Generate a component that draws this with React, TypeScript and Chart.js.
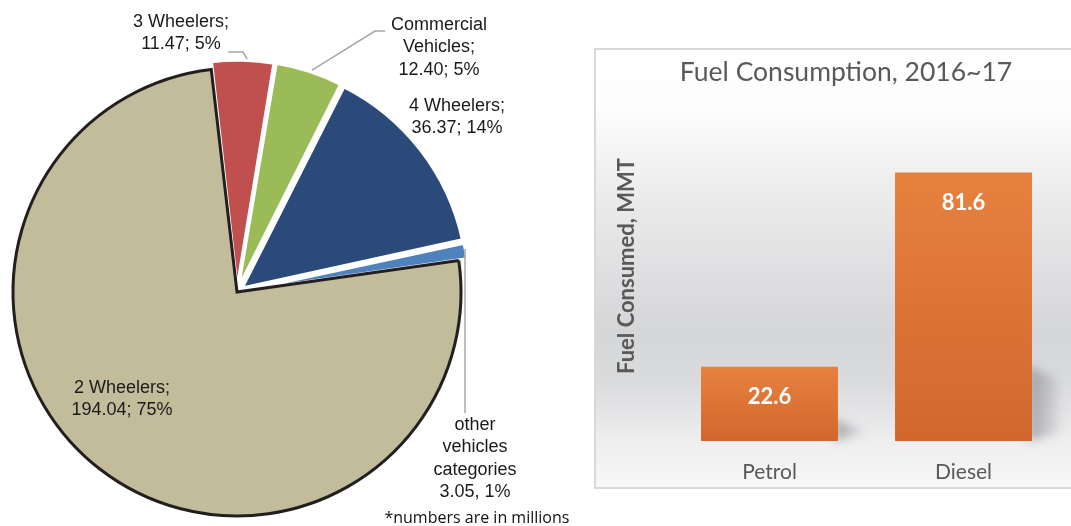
import React, { useEffect, useRef } from "react";
import { Chart, registerables } from "chart.js";

Chart.register(...registerables);

// ---------- Pie data ----------
const vehicleCategories = ["3 Wheelers", "Commercial Vehicles", "4 Wheelers", "other vehicles categories", "2 Wheelers"];
const vehicleCounts = [11.47, 12.4, 36.37, 3.05, 194.04];
const vehiclePercents = [5, 5, 14, 1, 75];
const vehicleNameLines = [
  ["3 Wheelers;"],
  ["Commercial", "Vehicles;"],
  ["4 Wheelers;"],
  ["other", "vehicles", "categories"],
  ["2 Wheelers;"],
];
const vehicleValueSeparators = ["; ", "; ", "; ", ", ", "; "];
const vehicleColors = ["#C0504D", "#9BBB59", "#2A4A7A", "#4F81BD", "#C2BC9B"];
const footnote = "*numbers are in millions";

// ---------- Bar data ----------
const fuelTypes = ["Petrol", "Diesel"];
const fuelConsumed = [22.6, 81.6];
const barTitle = "Fuel Consumption, 2016~17";
const barAxisTitle = "Fuel Consumed, MMT";

// label layout, as fractions of the pie radius from the pie centre
const pieLabelLayout = [
  { fx: -0.25, fy: -1.205, leader: [[-0.04, -1.071], [0.027, -1.071], [0.045, -1.04]] },
  { fx: 0.902, fy: -1.192, leader: [[0.661, -1.165], [0.616, -1.165], [0.335, -0.991]] },
  { fx: 0.982, fy: -0.83, leader: [] },
  { fx: 1.0625, fy: 0.594, leader: [[1.018, -0.192], [1.018, 0.54]] },
  { fx: -0.513, fy: 0.429, leader: [] },
];

const pieLabelPlugin = {
  id: "pieLabels",
  afterDraw(chart: any) {
    const meta = chart.getDatasetMeta(0);
    const a = meta.data[0];
    const cx = a.x, cy = a.y;
    const r = chart.options.radius;
    const ctx = chart.ctx;
    ctx.save();
    ctx.strokeStyle = "#A6A6A6";
    ctx.lineWidth = 1.5;
    pieLabelLayout.forEach((l) => {
      if (!l.leader.length) return;
      ctx.beginPath();
      l.leader.forEach((p, i) => {
        const x = cx + p[0] * r, y = cy + p[1] * r;
        if (i === 0) ctx.moveTo(x, y); else ctx.lineTo(x, y);
      });
      ctx.stroke();
    });
    ctx.fillStyle = "#1a1a1a";
    ctx.font = "18px 'Liberation Sans', Arial, sans-serif";
    ctx.textAlign = "center";
    ctx.textBaseline = "middle";
    vehicleCategories.forEach((_, i) => {
      const lines = [...vehicleNameLines[i], `${vehicleCounts[i].toFixed(2)}${vehicleValueSeparators[i]}${vehiclePercents[i]}%`];
      const l = pieLabelLayout[i];
      const x = cx + l.fx * r, y0 = cy + l.fy * r;
      lines.forEach((t, j) => ctx.fillText(t, x, y0 + j * 22.3));
    });
    ctx.font = "16px 'Open Sans', sans-serif";
    ctx.fillStyle = "#111";
    ctx.fillText(footnote, cx + 1.071 * r, cy + 1.009 * r);
    ctx.restore();
  },
};

const barBackgroundPlugin = {
  id: "barBackground",
  beforeDraw(chart: any) {
    const { ctx, width, height } = chart;
    ctx.save();
    const g = ctx.createLinearGradient(0, 0, 0, height);
    g.addColorStop(0, "#ffffff");
    g.addColorStop(0.13, "#fdfdfd");
    g.addColorStop(0.34, "#ebebec");
    g.addColorStop(0.64, "#d5d6d8");
    g.addColorStop(0.76, "#dadbdd");
    g.addColorStop(0.89, "#eeeeef");
    g.addColorStop(1, "#f8f8f8");
    ctx.fillStyle = g;
    ctx.fillRect(0, 0, width, height);
    ctx.strokeStyle = "#D9D9D9";
    ctx.lineWidth = 2;
    ctx.strokeRect(1, 1, width + 10, height - 2);
    ctx.restore();
  },
  beforeDatasetsDraw(chart: any) {
    const { ctx } = chart;
    const meta = chart.getDatasetMeta(0);
    ctx.save();
    ctx.filter = "blur(5px)";
    meta.data.forEach((bar: any) => {
      const right = bar.x + bar.width / 2;
      const bottom = bar.base;
      const h = bottom - bar.y;
      const sh = Math.min(h * 0.3, 75);
      const grad = ctx.createLinearGradient(right, 0, right + 30, 0);
      grad.addColorStop(0, "rgba(120,122,128,0.55)");
      grad.addColorStop(1, "rgba(120,122,128,0.05)");
      ctx.fillStyle = grad;
      ctx.beginPath();
      ctx.moveTo(right - 4, bottom - sh);
      ctx.lineTo(right + 26, bottom - sh + 12);
      ctx.lineTo(right + 28, bottom - 8);
      ctx.lineTo(right - 4, bottom);
      ctx.closePath();
      ctx.fill();
    });
    ctx.restore();
  },
  afterDraw(chart: any) {
    const { ctx } = chart;
    const meta = chart.getDatasetMeta(0);
    ctx.save();
    ctx.textAlign = "center";
    ctx.textBaseline = "middle";
    ctx.fillStyle = "#ffffff";
    ctx.font = "bold 22px Lato, sans-serif";
    meta.data.forEach((bar: any, i: number) => {
      ctx.fillText(String(fuelConsumed[i]), bar.x, bar.y + 30);
    });
    ctx.fillStyle = "#595959";
    ctx.font = "26.5px Lato, sans-serif";
    ctx.fillText(barTitle, 252, 24);
    ctx.translate(33, 218);
    ctx.rotate(-Math.PI / 2);
    ctx.font = "bold 22px Lato, sans-serif";
    ctx.fillText(barAxisTitle, 0, 0);
    ctx.restore();
  },
};

export default function App() {
  const pieRef = useRef<HTMLCanvasElement>(null);
  const barRef = useRef<HTMLCanvasElement>(null);

  useEffect(() => {
    const pie = new Chart(pieRef.current as HTMLCanvasElement, {
      type: "pie",
      data: {
        labels: vehicleCategories,
        datasets: [
          {
            data: vehicleCounts,
            backgroundColor: vehicleColors,
            borderColor: ["#ffffff", "#ffffff", "#ffffff", "#ffffff", "#231F20"],
            borderWidth: 3,
            borderJoinStyle: "miter",
            offset: [18, 19, 26, 17, 0],
          } as any,
        ],
      },
      options: {
        responsive: false,
        animation: false,
        radius: 224,
        rotation: -6.6,
        layout: { padding: { left: 0, right: 116, top: 58, bottom: 0 } },
        plugins: { legend: { display: false }, tooltip: { enabled: false } },
        events: [],
      } as any,
      plugins: [pieLabelPlugin],
    });

    const bar = new Chart(barRef.current as HTMLCanvasElement, {
      type: "bar",
      data: {
        labels: fuelTypes,
        datasets: [
          {
            data: fuelConsumed,
            barPercentage: 0.706,
            categoryPercentage: 1,
            backgroundColor: (c: any) => {
              const chart = c.chart;
              const area = chart.chartArea;
              if (!area || c.dataIndex === undefined) return "#DD7435";
              const ys = chart.scales.y;
              const top = ys.getPixelForValue(fuelConsumed[c.dataIndex]);
              const bottom = ys.getPixelForValue(0);
              const g = chart.ctx.createLinearGradient(0, top, 0, bottom);
              g.addColorStop(0, "#E6813F");
              g.addColorStop(1, "#D2672D");
              return g;
            },
            borderWidth: 0,
          } as any,
        ],
      },
      options: {
        responsive: false,
        animation: false,
        layout: { padding: { left: 78.5, right: 10.5, top: 64, bottom: 3 } },
        scales: {
          x: {
            grid: { display: false, drawTicks: false },
            border: { display: false },
            ticks: { color: "#595959", font: { family: "Lato", size: 21 }, padding: 19 },
            afterFit: (scale: any) => {
              scale.height = 45;
            },
          },
          y: { display: false, min: 0, max: 100 },
        },
        plugins: { legend: { display: false }, tooltip: { enabled: false } },
        events: [],
      } as any,
      plugins: [barBackgroundPlugin],
    });

    return () => {
      pie.destroy();
      bar.destroy();
    };
  }, []);

  return (
    <div style={{ position: "absolute", left: 0, top: 0, width: 1071, height: 526, overflow: "hidden", background: "#ffffff" }}>
      <canvas ref={pieRef} width={590} height={526} style={{ position: "absolute", left: 0, top: 0, width: 590, height: 526 }} />
      <canvas ref={barRef} width={477} height={441} style={{ position: "absolute", left: 594, top: 48, width: 477, height: 441 }} />
    </div>
  );
}
